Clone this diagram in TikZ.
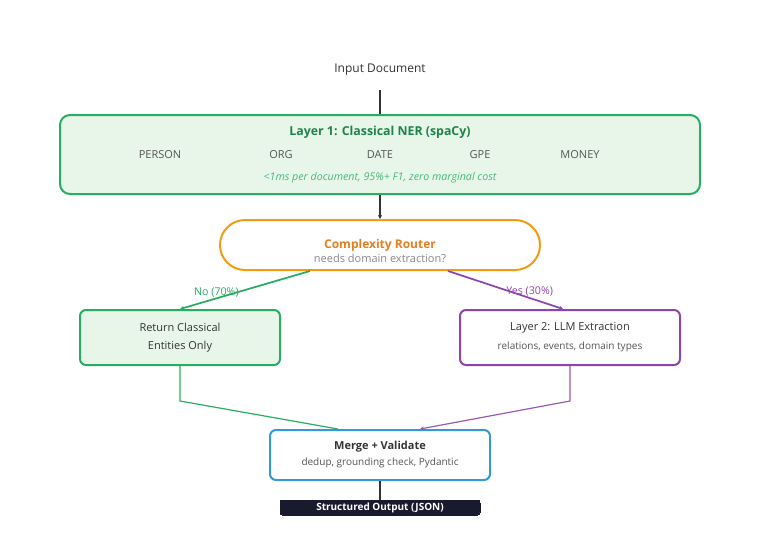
\documentclass[tikz,border=0pt]{standalone}
\usepackage{fontspec}
\setmainfont{Open Sans}
\usetikzlibrary{positioning, arrows.meta}
\definecolor{nergreen}{HTML}{27AE60}
\definecolor{nerdark}{HTML}{1E8449}
\definecolor{nerfill}{HTML}{E8F5E9}
\definecolor{routeorange}{HTML}{F39C12}
\definecolor{routetext}{HTML}{E67E22}
\definecolor{llmpurple}{HTML}{8E44AD}
\definecolor{llmline}{HTML}{9B59B6}
\definecolor{mergeblue}{HTML}{3498DB}
\definecolor{outdark}{HTML}{1A1A2E}
\definecolor{textdark}{HTML}{333333}
\definecolor{textgray}{HTML}{555555}
\definecolor{textlight}{HTML}{888888}
\tikzset{
    >={Stealth[length=3pt, width=3pt]}, % small arrowheads
    box/.style={draw, rounded corners=4.5pt, line width=1.5pt, align=center,
        inner sep=0pt},
    entity/.style={font=\fontsize{8.25}{10}\selectfont, text=textgray},
    flow/.style={line width=1.3pt},
}
\begin{document}
\begin{tikzpicture}[on grid, every node/.style={font=\fontsize{9}{11}\selectfont}]
    \useasboundingbox (0,0) rectangle (570pt,-399pt);

    % --- Input ---
    \node[text=textdark] (input) at (285pt,-52.5pt) {Input Document};

    % --- Layer 1 ---
    \node[box, draw=nergreen, fill=nerfill, rounded corners=7.5pt,
          minimum width=480pt, minimum height=59.25pt]
          (layer1) [below=63.375pt of input] {};
    \node[font=\bfseries\fontsize{9.25}{12}\selectfont, text=nerdark]
          (l1title) at ([yshift=-14pt]layer1.north) {Layer 1: Classical NER (spaCy)};
    \node[entity] (person) at ([xshift=-165pt, yshift=-0.4pt]layer1.center) {PERSON};
    \node[entity] (org) at ([xshift=-74.25pt, yshift=-0.4pt]layer1.center) {ORG};
    \node[entity] (date) at ([yshift=-0.4pt]layer1.center) {DATE};
    \node[entity] (gpe) at ([xshift=75pt, yshift=-0.4pt]layer1.center) {GPE};
    \node[entity] (money) at ([xshift=150pt, yshift=-0.4pt]layer1.center) {MONEY};
    \node[font=\itshape\fontsize{8}{9}\selectfont, text=nergreen!85]
          (l1note) at ([yshift=-17.5pt]layer1.center) {<1ms per document, 95\%+ F1, zero marginal cost};

    % --- Router ---
    \node[box, draw=routeorange, fill=white, rounded corners=18.75pt,
          minimum width=240pt, minimum height=37.5pt]
          (router) [below=67.875pt of layer1] {};
    \node[font=\bfseries\fontsize{9}{11}\selectfont, text=routetext]
          (rtitle) at ([yshift=0pt]router.center) {Complexity Router};
    \node[font=\fontsize{8.25}{10}\selectfont, text=textlight]
          (rsub) at ([yshift=-10pt]router.center) {needs domain extraction?};

    % --- Branches ---
    \node[box, draw=nergreen, fill=nerfill, text=textdark,
          font=\fontsize{8.25}{13.5}\selectfont,
          minimum width=150pt, minimum height=41.25pt]
          (classic) [below left=69.375pt and 150pt of router] {Return Classical\\Entities Only};
    \node[box, draw=llmpurple, fill=white, text=textdark,
          font=\fontsize{8.25}{14.25}\selectfont,
          minimum width=165pt, minimum height=41.25pt]
          (llm) [below right=69.375pt and 142.5pt of router]
          {Layer 2: LLM Extraction\\{\fontsize{7.5}{9}\selectfont\color{textgray}relations, events, domain types}};

    % --- Merge ---
    \node[box, draw=mergeblue, fill=white, text=textdark,
          font=\fontsize{8.25}{12}\selectfont,
          minimum width=165pt, minimum height=37.5pt]
          (merge) [below=157.5pt of router] {\textbf{Merge + Validate}\\{\fontsize{7.5}{9}\selectfont\color{textgray}dedup, grounding check, Pydantic}};
    \node[box, fill=outdark, draw=outdark, line width=0pt, rounded corners=2.25pt,
          text=white, font=\bfseries\fontsize{7.5}{9}\selectfont,
          minimum width=150pt, minimum height=11.25pt]
          (output) [below=39.375pt of merge] {Structured Output (JSON)};

    % --- Connectors ---
    \draw[flow, textdark, shorten <=7pt] (input) -- (layer1);
    \draw[flow, textdark, ->] (layer1) -- (router);
    \draw[flow, nergreen, ->] ([xshift=-52.5pt]router.south) -- (classic.north)
        node[pos=0.72, above, inner sep=0.5pt, font=\fontsize{8}{9}\selectfont] {No (70\%)};
    \draw[flow, llmpurple, ->] ([xshift=51pt]router.south) -- ([xshift=-5.25pt]llm.north)
        node[pos=0.71, above, inner sep=0.5pt, font=\fontsize{8}{9}\selectfont] {Yes (30\%)};
    \draw[line width=0.9pt, nergreen] (classic.south) -- ++(0,-26.25pt) -- ([xshift=-31.5pt]merge.north);
    \draw[line width=0.9pt, llmline, ->] (llm.south) -- ++(0,-26.25pt) -- ([xshift=30pt]merge.north);
    \draw[flow, textdark] (merge) -- (output);

\end{tikzpicture}
\end{document}
